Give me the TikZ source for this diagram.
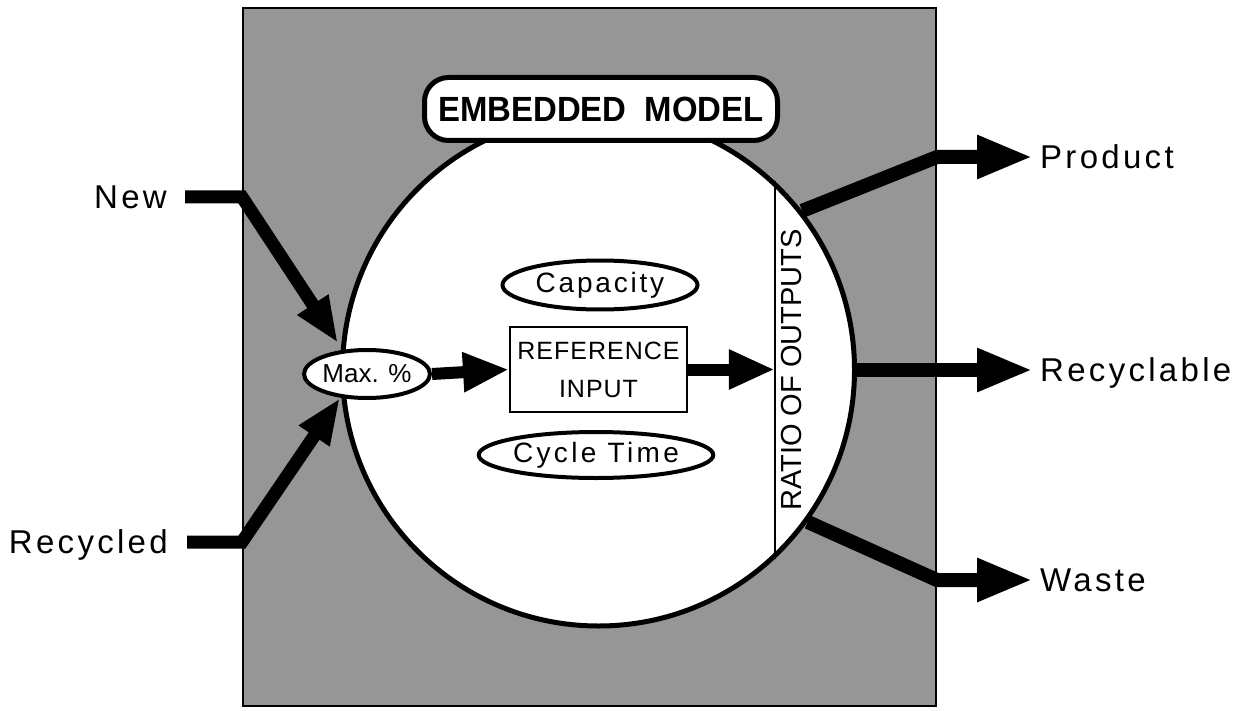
\documentclass[tikz,border=0pt]{standalone}
\usepackage{fontspec}
\setmainfont{Liberation Sans}
\newfontfamily\lblfont[LetterSpace=10]{Liberation Sans}
\newfontfamily\ovalfont[LetterSpace=10]{Liberation Sans}
\newfontfamily\cyclefont[LetterSpace=12]{Liberation Sans}
\newfontfamily\reffont[LetterSpace=4]{Liberation Sans}
\usetikzlibrary{arrows.meta,positioning,calc,shapes.geometric}

\definecolor{shade}{RGB}{150,150,150}

\tikzset{
  lbl/.style={inner sep=0pt, font=\fontsize{33}{40}\selectfont\lblfont,
    text height=23.6pt, text depth=0pt},
  oval/.style={ellipse, draw, line width=4pt, fill=white, inner sep=0pt,
    font=\fontsize{28}{32}\selectfont\ovalfont},
  flow/.style={line width=14pt, -{Triangle[length=56pt,width=40pt]}},
  inflow/.style={line width=13pt, -{Triangle[length=46pt,width=34pt]}},
  midflow/.style={line width=12pt, -{Triangle[length=46pt,width=37pt]}},
}

\begin{document}
\begin{tikzpicture}[x=1pt,y=-1pt]
  \useasboundingbox (0,0) rectangle (1244,711);

  % shaded plant and the model
  \node[draw, line width=2pt, fill=shade, minimum width=693pt, minimum height=698pt] (plant) at (589.5,357) {};
  \node[circle, draw, line width=5pt, fill=white, minimum size=512pt, inner sep=0pt] (model) at (598.5,370) {};
  \node[draw, line width=5pt, fill=white, rounded corners=24pt, minimum width=353pt, minimum height=63pt,
        font=\fontsize{35}{40}\selectfont\bfseries] (title) at (601,109) {\scalebox{0.94}[1]{EMBEDDED~~MODEL}};

  % inside the model
  \node[oval, minimum width=195pt, minimum height=49pt] (capacity) at (600,285) {Capacity};
  \node[draw, line width=2pt, minimum width=177pt, minimum height=85pt, inner sep=0pt, align=center,
        font=\fontsize{25}{38}\selectfont\reffont] (ref) at (598.5,369.5) {REFERENCE\\INPUT};
  \node[oval, minimum width=219pt, minimum height=46pt, font=\fontsize{28}{32}\selectfont\cyclefont] (cycle) at (596,455) {Cycle Time};
  \node[oval, minimum width=108pt, minimum height=48pt, font=\fontsize{26}{30}\selectfont] (maxpct) at (367,374) {Max. \%};

  \draw[line width=2.5pt] (model.47) -- (model.-47);
  \node[rotate=90, inner sep=0pt, font=\fontsize{29}{32}\selectfont] (ratio) at (792,370) {RATIO OF OUTPUTS};

  \draw[midflow] (maxpct.east) -- (ref.west);
  \draw[midflow] (ref.east) -- (model.47 |- ref.east);

  % inputs
  \node[lbl, anchor=east] (new) at (167,197) {New};
  \node[lbl, anchor=east] (recycled) at (168,542) {Recycled};
  \coordinate (newtip) at (338,343);
  \coordinate (rectip) at (340,398);
  \draw[inflow] ([xshift=18pt]new.east) -- (new.east -| plant.west) -- (newtip);
  \draw[inflow] ([xshift=19pt]recycled.east) -- (recycled.east -| plant.west) -- (rectip);

  % outputs
  \node[lbl, anchor=west] (product) at (1040,157) {Product};
  \node[lbl, anchor=west] (recyclable) at (1040,370) {Recyclable};
  \node[lbl, anchor=west] (waste) at (1040,580) {Waste};
  \draw[flow] (model.38) -- (product.west -| plant.east) -- ([xshift=-7pt]product.west);
  \draw[flow] (model.east) -- ([xshift=-7pt]recyclable.west);
  \draw[flow] (model.-36) -- (waste.west -| plant.east) -- ([xshift=-7pt]waste.west);

\end{tikzpicture}
\end{document}
